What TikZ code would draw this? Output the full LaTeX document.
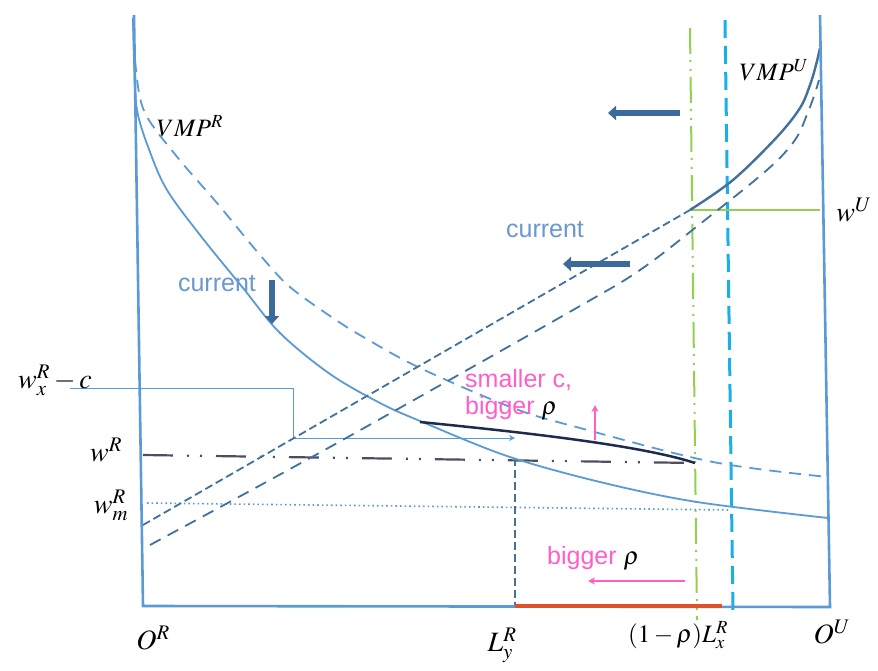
\documentclass[tikz,border=0pt]{standalone}
\usepackage{mathptmx}
\usepackage[no-math]{fontspec}
\setmainfont{Liberation Serif}
\setsansfont{Liberation Sans}
\usetikzlibrary{arrows.meta}
\definecolor{axb}{HTML}{5B9BD5}
\definecolor{dkb}{HTML}{41719C}
\definecolor{arb}{HTML}{3C6A9A}
\definecolor{grn}{HTML}{92D050}
\definecolor{cyn}{HTML}{1AAFE6}
\definecolor{nvy}{HTML}{1F2B4E}
\definecolor{ddc}{HTML}{4A5060}
\definecolor{rdc}{HTML}{E0502A}
\definecolor{pnk}{HTML}{FF5FC8}
\definecolor{txtb}{HTML}{6A98CF}
\tikzset{
  axisline/.style={draw=axb,line width=2.6pt},
  vmprsolid/.style={draw=axb,line width=1.8pt},
  vmprdash/.style={draw=axb,line width=1.8pt,dash pattern=on 12pt off 8pt},
  vmpusolid/.style={draw=dkb,line width=2.4pt},
  vmpudashA/.style={draw=dkb,line width=1.8pt,dash pattern=on 8pt off 4pt},
  vmpudashB/.style={draw=dkb,line width=1.8pt,dash pattern=on 12pt off 8pt},
  greenline/.style={draw=grn,line width=2pt},
  greendd/.style={draw=grn,line width=2pt,dash pattern=on 26pt off 6pt on 2pt off 7pt on 2pt off 6pt},
  cyandash/.style={draw=cyn,line width=3pt,dash pattern=on 18pt off 8pt},
  wrline/.style={draw=ddc,line width=2.2pt,dash pattern=on 30pt off 14pt on 2pt off 11pt on 2pt off 14pt},
  wmline/.style={draw=axb,line width=1.6pt,dash pattern=on 1.6pt off 3pt},
  thinline/.style={draw=axb,line width=0.8pt},
  lydash/.style={draw=dkb,line width=1.6pt,dash pattern=on 8pt off 4pt},
  redline/.style={draw=rdc,line width=3.5pt},
  navycurve/.style={draw=nvy,line width=2.5pt},
  pinkarrow/.style={draw=pnk,line width=1.8pt,-{Stealth[length=7pt,width=7pt]}},
  bigarrow/.style={draw=arb,line width=6pt,-{Triangle[length=8pt,width=14pt]}},
  mlab/.style={inner sep=0pt,font=\fontsize{28}{32}\selectfont},
  vlab/.style={inner sep=0pt,font=\fontsize{25}{30}\selectfont},
  slab/.style={inner sep=0pt,font=\sffamily\fontsize{25}{29}\selectfont},
}
\begin{document}
\begin{tikzpicture}[x=1pt,y=-1pt]
\useasboundingbox (0,0) rectangle (878,671);
\fill[white] (0,0) rectangle (878,671);
% key points
\coordinate (RT) at (134,15);
\coordinate (OR) at (143,606);
\coordinate (OUc) at (830,607);
\coordinate (UT) at (820,15);
\coordinate (EQ) at (690,210);
\coordinate (WU) at (820,210);
\coordinate (NA) at (420,422);
\coordinate (NB) at (695,463);
% coloured verticals
\draw[greendd] (690,28) -- (697,620);
\draw[cyandash] (725,20) -- (733,612);
\draw[greenline] (EQ) -- (WU);
% horizontal reference lines
\draw[wmline] (147,503) -- (730,510);
\draw[wrline] (143,455) -- (NB);
\coordinate (TA) at (70,388);
\coordinate (TB) at (293,388);
\coordinate (TC) at (293,438);
\coordinate (TD) at (515,438);
\draw[thinline,-{Stealth[length=6pt,width=6pt]}] (TA) -- (TB) -- (TC) -- (TD);
% L_y dashed
\coordinate (LYt) at (515,458);
\coordinate (LYb) at (515,606);
\draw[lydash] (LYt) -- (LYb);
% VMP^R curves
\draw[vmprsolid] plot[smooth,tension=0.55] coordinates {(133,18) (134,60) (137,110) (150,152) (167,190) (200,235) (243,288) (280,333) (330,374) (380,403) (420,421) (507,456) (600,482) (697,502) (828,518)};
\draw[vmprdash] plot[smooth,tension=0.55] coordinates {(133,20) (136,70) (145,113) (178,158) (217,203) (260,255) (290,287) (333,318) (365,338) (420,368) (513,408) (580,428) (713,462) (828,477)};
% VMP^U curves
\draw[vmpudashA] (143,525) -- (EQ);
\draw[vmpudashB] plot[smooth,tension=0.55] coordinates {(150,545) (330,447) (573,310) (640,270) (700,224) (767,170) (795,140) (808,112) (815,93) (819,80)};
\draw[vmpusolid] plot[smooth,tension=0.55] coordinates {(690,210) (733,180) (777,137) (800,108) (810,85) (816,65) (820,48)};
% navy curve
\draw[navycurve] (NA) .. controls (520,432) and (640,445) .. (NB);
% axes
\draw[axisline] (RT) -- (OR) -- (OUc) -- (UT);
% red segment
\draw[redline] (LYb) -- (722,606);
% arrows
\draw[bigarrow] (272,280) -- (272,324);
\draw[bigarrow] (680,113) -- (608,113);
\draw[bigarrow] (630,264) -- (563,264);
\draw[pinkarrow] (595,440) -- (595,405);
\draw[pinkarrow] (685,581) -- (588,581);
% labels
\node[vlab] (lVR) at (190,126) {$VMP^R$};
\node[vlab] (lVU) at (774,70) {$VMP^U$};
\node[mlab] (lWU) at (854,210) {$w^U$};
\node[mlab] (lWX) at (55,380) {$w_x^R-c$};
\node[mlab] (lWR) at (106,450) {$w^R$};
\node[mlab] (lWM) at (111,505) {$w_m^R$};
\node[mlab] (lOR) at (153,638) {$O^R$};
\node[mlab] (lLY) at (502,645) {$L_y^R$};
\node[vlab] (lLX) at (678,635) {$(1-\rho)L_x^R$};
\node[mlab] (lOU) at (832,632) {$O^U$};
\node[slab,text=txtb] (cur1) at (545,230) {current};
\node[slab,text=txtb] (cur2) at (217,284) {current};
\node[slab,text=pnk,anchor=west] (sm1) at (465,380) {smaller c,};
\node[slab,text=pnk,anchor=west] (sm2) at (465,408) {bigger \textcolor{black}{$\rho$}};
\node[slab,text=pnk,anchor=west] (bg) at (547,558) {bigger \textcolor{black}{$\rho$}};
\end{tikzpicture}
\end{document}
